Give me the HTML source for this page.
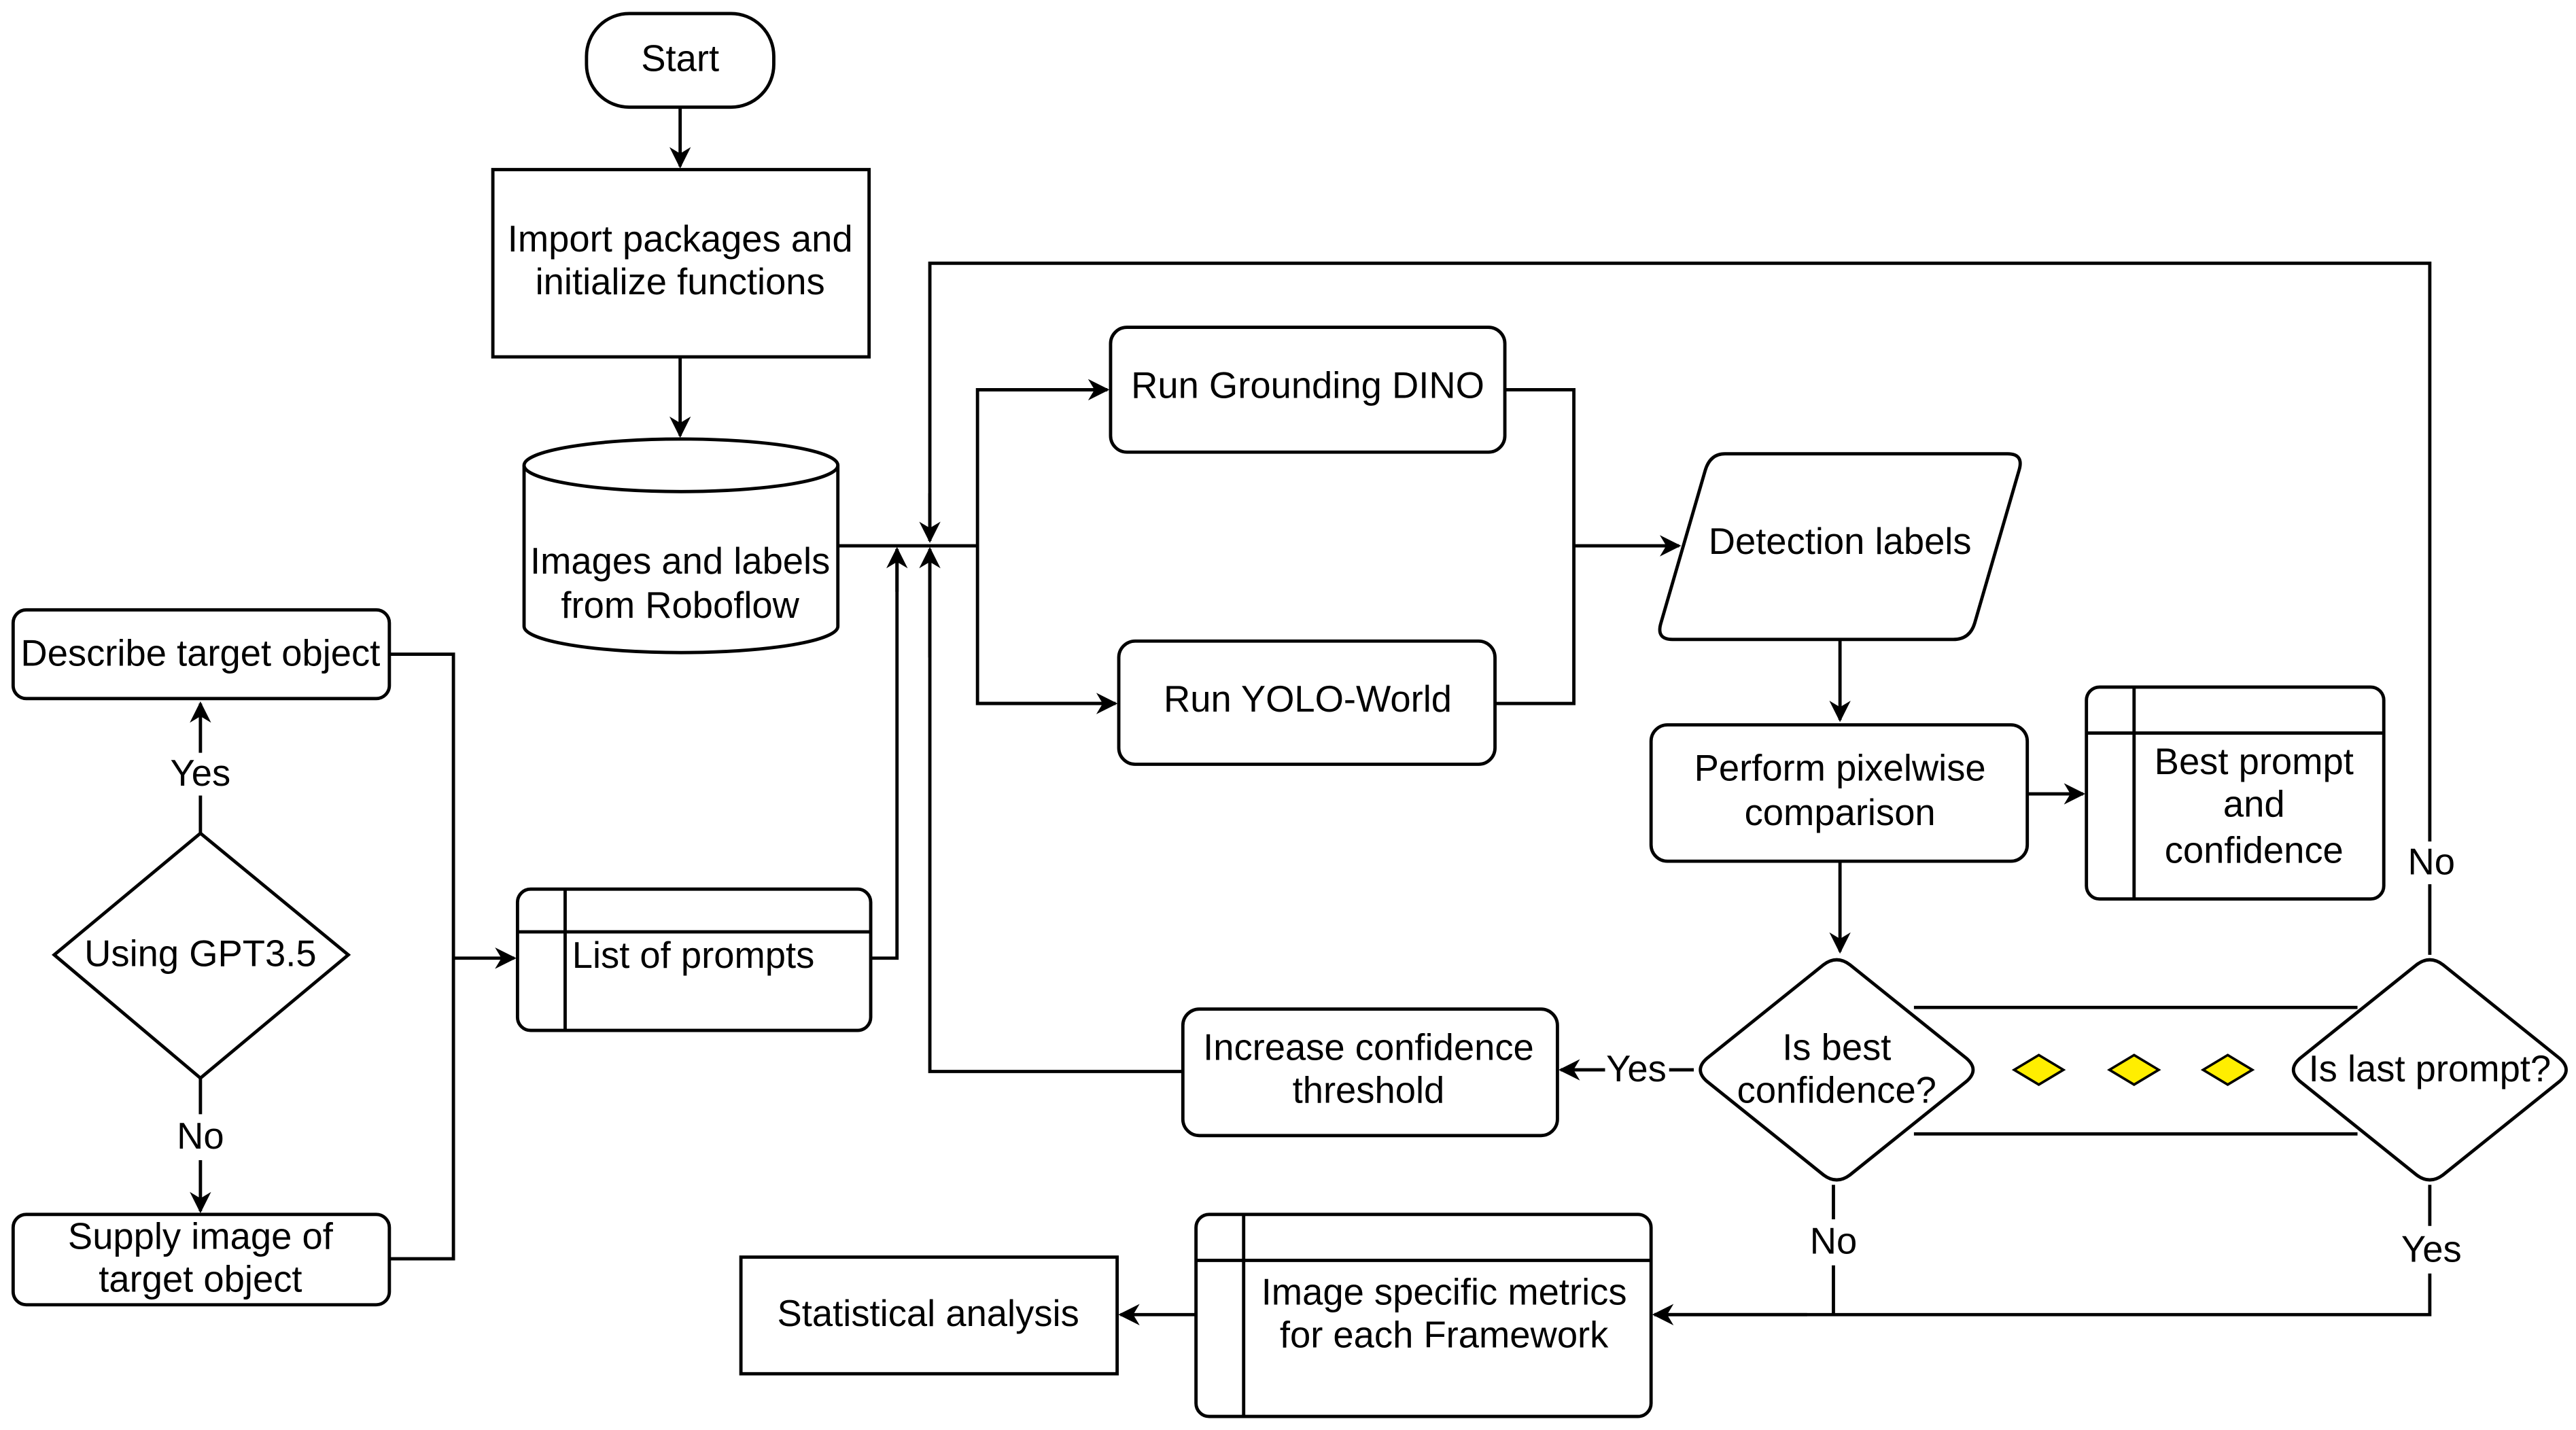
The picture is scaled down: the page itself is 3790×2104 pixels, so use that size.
<!DOCTYPE html>
<html><head><meta charset="utf-8"><style>
html,body{margin:0;padding:0;background:#fff;}
svg{display:block;}
text{font-family:"Liberation Sans",Arial,sans-serif;font-size:22.5px;fill:#000;text-anchor:middle;dominant-baseline:middle;}
</style></head><body>
<svg width="3790" height="2104" viewBox="0 0 1568 870" xmlns="http://www.w3.org/2000/svg">
<defs>
<marker id="a" viewBox="0 0 10 10" refX="9" refY="5" markerWidth="13" markerHeight="13" orient="auto-start-reverse" markerUnits="userSpaceOnUse">
<path d="M0,0 L10,5 L0,10 L3,5 Z" fill="#000"/></marker>
</defs>
<rect width="1568" height="870" fill="#fff"/>
<g fill="none" stroke="#000" stroke-width="2">
<rect x="357" y="8" width="114" height="57" rx="26"/>
<line x1="414" y1="65" x2="414" y2="101" marker-end="url(#a)"/>
<rect x="300" y="103" width="229" height="114"/>
<line x1="414" y1="217" x2="414" y2="265" marker-end="url(#a)"/>
<path d="M319,283 A95.5,16 0 0 1 510,283 L510,381 A95.5,16 0 0 1 319,381 Z"/>
<path d="M319,283 A95.5,16 0 0 0 510,283"/>
<line x1="510" y1="332" x2="595" y2="332"/>
<polyline points="674,237 595,237 595,428 679,428"/>
<line x1="595" y1="237" x2="674" y2="237" marker-end="url(#a)"/>
<line x1="595" y1="428" x2="679" y2="428" marker-end="url(#a)"/>
<rect x="676" y="199" width="240" height="76" rx="10"/>
<rect x="681" y="390" width="229" height="75" rx="10"/>
<polyline points="916,237 958,237 958,428 910,428"/>
<line x1="958" y1="332" x2="1022" y2="332" marker-end="url(#a)"/>
<path d="M1050,276 L1222,276 Q1232,276 1229,286 L1202,379 Q1199,389 1189,389 L1018,389 Q1008,389 1011,379 L1038,286 Q1041,276 1050,276 Z"/>
<line x1="1120" y1="389" x2="1120" y2="438" marker-end="url(#a)"/>
<rect x="1005" y="441" width="229" height="83" rx="10"/>
<line x1="1234" y1="483" x2="1268" y2="483" marker-end="url(#a)"/>
<rect x="1270" y="418" width="181" height="129" rx="8"/>
<line x1="1299" y1="418" x2="1299" y2="547"/>
<line x1="1270" y1="446" x2="1451" y2="446"/>
<line x1="1120" y1="524" x2="1120" y2="579" marker-end="url(#a)"/>
<line x1="1165" y1="613" x2="1435" y2="613"/>
<line x1="1165" y1="690" x2="1435" y2="690"/>
<path d="M1110,587 Q1118,581 1126,587 L1197,644 Q1205,651 1197,658 L1126,715 Q1118,721 1110,715 L1039,658 Q1031,651 1039,644 Z" fill="#fff"/>
<path d="M1471,587 Q1479,581 1487,587 L1558,644 Q1566,651 1558,658 L1487,715 Q1479,721 1471,715 L1400,658 Q1392,651 1400,644 Z" fill="#fff"/>
<line x1="1031" y1="651" x2="1016" y2="651"/>
<line x1="977" y1="651" x2="950" y2="651" marker-end="url(#a)"/>
<rect x="720" y="614" width="228" height="77" rx="10"/>
<polyline points="720,652 566,652 566,334"/>
<line x1="566" y1="400" x2="566" y2="334" marker-end="url(#a)"/>
<polyline points="1479,581 1479,160 566,160 566,329"/>
<line x1="566" y1="300" x2="566" y2="329" marker-end="url(#a)"/>
<rect x="315" y="541" width="215" height="86" rx="8"/>
<line x1="344" y1="541" x2="344" y2="627"/>
<line x1="315" y1="567" x2="530" y2="567"/>
<polyline points="530,583 546,583 546,334"/>
<line x1="546" y1="360" x2="546" y2="334" marker-end="url(#a)"/>
<rect x="8" y="371" width="229" height="54" rx="8"/>
<path d="M122,507 L212,581 L122,656 L33,581 Z"/>
<line x1="122" y1="458" x2="122" y2="428" marker-end="url(#a)"/>
<line x1="122" y1="507" x2="122" y2="484"/>
<line x1="122" y1="656" x2="122" y2="678"/>
<line x1="122" y1="706" x2="122" y2="737" marker-end="url(#a)"/>
<rect x="8" y="739" width="229" height="55" rx="8"/>
<polyline points="237,398 276,398 276,766 237,766"/>
<line x1="276" y1="583" x2="313" y2="583" marker-end="url(#a)"/>
<line x1="1116" y1="721" x2="1116" y2="742"/>
<line x1="1116" y1="770" x2="1116" y2="800"/>
<line x1="1479" y1="721" x2="1479" y2="746"/>
<polyline points="1479,775 1479,800 1007,800"/>
<line x1="1100" y1="800" x2="1007" y2="800" marker-end="url(#a)"/>
<rect x="728" y="739" width="277" height="123" rx="8"/>
<line x1="757" y1="739" x2="757" y2="862"/>
<line x1="728" y1="767" x2="1005" y2="767"/>
<line x1="728" y1="800" x2="682" y2="800" marker-end="url(#a)"/>
<rect x="451" y="765" width="229" height="71"/>
</g>
<rect x="1464" y="512" width="32" height="26" fill="#fff"/>
<g fill="#ffee00" stroke="#000" stroke-width="1.5">
<path d="M1241,642 L1256,651 L1241,660 L1226,651 Z"/>
<path d="M1299,642 L1314,651 L1299,660 L1284,651 Z"/>
<path d="M1356,642 L1371,651 L1356,660 L1341,651 Z"/>
</g>
<text x="414" y="37">Start</text>
<text x="414" y="147">Import packages and</text>
<text x="414" y="173">initialize functions</text>
<text x="414" y="343">Images and labels</text>
<text x="414" y="370">from Roboflow</text>
<text x="796" y="236">Run Grounding DINO</text>
<text x="796" y="427">Run YOLO-World</text>
<text x="1120" y="331">Detection labels</text>
<text x="1120" y="469">Perform pixelwise</text>
<text x="1120" y="496">comparison</text>
<text x="1372" y="465">Best prompt</text>
<text x="1372" y="491">and</text>
<text x="1372" y="519">confidence</text>
<text x="1118" y="639">Is best</text>
<text x="1118" y="665">confidence?</text>
<text x="1479" y="652">Is last prompt?</text>
<text x="996" y="652">Yes</text>
<text x="833" y="639">Increase confidence</text>
<text x="833" y="665">threshold</text>
<text x="1480" y="526">No</text>
<text x="422" y="583">List of prompts</text>
<text x="122" y="399">Describe target object</text>
<text x="122" y="472">Yes</text>
<text x="122" y="582">Using GPT3.5</text>
<text x="122" y="693">No</text>
<text x="122" y="754">Supply image of</text>
<text x="122" y="780">target object</text>
<text x="1116" y="757">No</text>
<text x="1480" y="762">Yes</text>
<text x="879" y="788">Image specific metrics</text>
<text x="879" y="814">for each Framework</text>
<text x="565" y="801">Statistical analysis</text>
</svg>
</body></html>
